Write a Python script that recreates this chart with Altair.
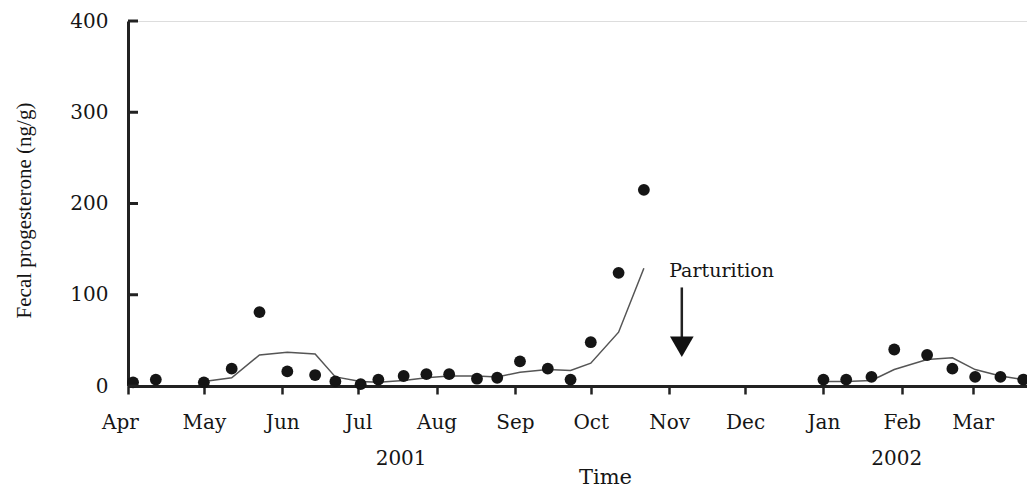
import altair as alt
import pandas as pd

# ---- data ----
dates_2001 = ["2001-04-03", "2001-04-12", "2001-05-01", "2001-05-12", "2001-05-23",
              "2001-06-03", "2001-06-14", "2001-06-22", "2001-07-02", "2001-07-09",
              "2001-07-19", "2001-07-28", "2001-08-06", "2001-08-17", "2001-08-25",
              "2001-09-03", "2001-09-14", "2001-09-23", "2001-10-01", "2001-10-12",
              "2001-10-22"]
values_2001 = [4, 7, 4, 19, 81, 16, 12, 5, 2, 7, 11, 13, 13, 8, 9, 27, 19, 7, 48, 124, 215]
trend_2001 = [None, None, 5, 9, 34, 37, 35, 10, 5, 4, 6, 9, 11, 11, 10, 15, 18, 17, 25, 59, 129]

dates_2002 = ["2002-01-01", "2002-01-10", "2002-01-20", "2002-01-29", "2002-02-11",
              "2002-02-21", "2002-03-02", "2002-03-12", "2002-03-21"]
values_2002 = [7, 7, 10, 40, 34, 19, 10, 10, 7]
trend_2002 = [5, 5, 6, 18, 29, 31, 18, 11, 7]

y_ticks = [0, 100, 200, 300, 400]
year_labels = ["2001", "2002"]
year_label_dates = ["2001-07-18", "2002-01-30"]

annotation_text = "Parturition"
annotation_date = "2001-11-01"
annotation_value = 120
arrow_date = "2001-11-06"
arrow_top = 108
arrow_bottom = 48
arrow_head = 43

# ---- tables ----
rows = []
for series, ds, vs, ts in [("2001", dates_2001, values_2001, trend_2001),
                           ("2002", dates_2002, values_2002, trend_2002)]:
    for d, v, t in zip(ds, vs, ts):
        rows.append({"date": d + "T00:00:00", "value": v, "kind": "obs", "series": series})
        if t is not None:
            rows.append({"date": d + "T00:00:00", "value": t, "kind": "trend", "series": series})
df = pd.DataFrame(rows)

ticks_df = pd.DataFrame({"value": y_ticks})
years_df = pd.DataFrame({"date": [d + "T00:00:00" for d in year_label_dates], "label": year_labels})
ann_df = pd.DataFrame({"date": [annotation_date + "T00:00:00"], "value": [annotation_value],
                       "label": [annotation_text]})
arrow_df = pd.DataFrame({"date": [arrow_date + "T00:00:00"], "value": [arrow_top],
                         "value2": [arrow_bottom], "head": [arrow_head]})

INK = "#151515"
SERIF = "DejaVu Serif"

x_axis = alt.Axis(format="%b", tickCount="month", title="Time", grid=False,
                  domainColor="#222", domainWidth=3, tickColor="#222", tickWidth=2.5,
                  tickSize=8, labelFont=SERIF, labelFontSize=20, labelColor=INK,
                  labelPadding=18, labelFlush=False,
                  labelOffset={"condition": {"test": "month(datum.value) == 3", "value": -8},
                               "value": 0},
                  titleFont=SERIF, titleFontSize=21, titleFontWeight="normal",
                  titleColor=INK, titleX=477, titleY=97, titleAlign="center",
                  titleBaseline="alphabetic")
y_axis = alt.Axis(values=y_ticks, ticks=False, grid=False, domainColor="#222",
                  domainWidth=3, labelFont=SERIF, labelFontSize=20, labelColor=INK,
                  labelPadding=20, title="Fecal progesterone (ng/g)",
                  titleFont="Liberation Serif", titleFontSize=21, titleFontWeight="normal",
                  titleColor=INK, titleAngle=270, titleX=-104, titleY=189,
                  titleAlign="center", titleBaseline="middle")

x_scale = alt.Scale(domain=[alt.DateTime(year=2001, month=4, date=1),
                            alt.DateTime(year=2002, month=3, date=22, hours=12)])
y_scale = alt.Scale(domain=[0, 400], nice=False)

X = alt.X("date:T", scale=x_scale, axis=x_axis)
Y = alt.Y("value:Q", scale=y_scale, axis=y_axis)

base = alt.Chart(df)

trend = base.transform_filter(alt.datum.kind == "trend").mark_line(
    color="#555", strokeWidth=1.5).encode(x=X, y=Y, detail="series:N")

points = base.transform_filter(alt.datum.kind == "obs").mark_circle(
    color=INK, size=140, opacity=1).encode(x=X, y=Y)

yticks = alt.Chart(ticks_df).mark_rule(color="#222", strokeWidth=3).encode(
    y=Y, x=alt.value(0), x2=alt.value(10))

years = alt.Chart(years_df).mark_text(font=SERIF, fontSize=20, color=INK,
                                      baseline="alphabetic", align="center").encode(
    x=X, y=alt.value(444), text="label:N")

ann = alt.Chart(ann_df).mark_text(font=SERIF, fontSize=19, color=INK,
                                  baseline="alphabetic", align="left").encode(
    x=X, y=Y, text="label:N")

arrow_line = alt.Chart(arrow_df).mark_rule(color="#222", strokeWidth=2.5).encode(
    x=X, y=Y, y2="value2:Q")

arrow_tip = alt.Chart(arrow_df).mark_point(shape="triangle-down", filled=True, size=560,
                                           color="#111", opacity=1).encode(
    x=X, y=alt.Y("head:Q", scale=y_scale, axis=y_axis))

chart = alt.layer(trend, points, yticks, years, ann, arrow_line, arrow_tip).properties(
    width=899, height=365,
    autosize=alt.AutoSizeParams(type="none"),
    padding={"left": 120, "top": 13, "right": 0, "bottom": 106},
).configure_view(stroke=None).configure(background="white")

chart.save("out.html", embed_options={"renderer": "svg", "actions": False})
